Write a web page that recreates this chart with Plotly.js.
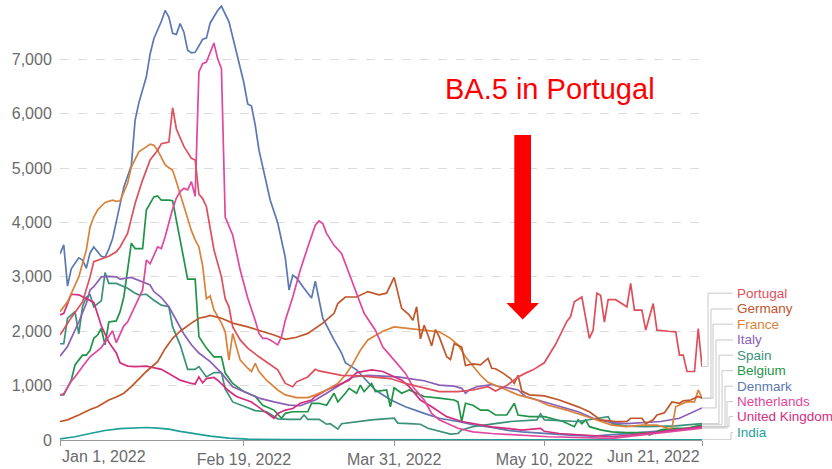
<!DOCTYPE html>
<html><head><meta charset="utf-8">
<script src="https://cdn.plot.ly/plotly-3.0.1.min.js"></script>
<style>html,body{margin:0;padding:0;background:#fff}</style>
</head><body><div id="chart" style="width:832px;height:469px"></div>
<script>
// ---- data (day offset from 2022-01-01, value) ----
const startDate = '2022-01-01';
const endDate = '2022-06-21';
const xTickDates = ['2022-01-01','2022-02-19','2022-03-31','2022-05-10','2022-06-21'];
const xTickLabels = ['Jan 1, 2022','Feb 19, 2022','Mar 31, 2022','May 10, 2022','Jun 21, 2022'];
const yTickVals = [0,1000,2000,3000,4000,5000,6000,7000];

const countries = ['Portugal','Germany','France','Italy','Spain','Belgium','Denmark','Netherlands','United Kingdom','India'];
const colors = ['#de4f5c','#c0562a','#d9823a','#8a5fb5','#3b9179','#1f9447','#5b78b0','#e0479e','#d42e7e','#1f9f98'];
const labelVals = [2700,2410,2130,1840,1560,1275,990,705,430,135];

const prtDays = [0,3,6,8,9,11,13,15,16,18,20,22,24,26,27,29,30,31,32,33,35,36,37,38,39,40,41,43,44,45,46,48,50,53,55,58,60,62,63,66,68,69,72,75,80,85,88,92,97,101,106,110,114,116,119,122,124,126,129,132,135,136,137,139,141,142,143,144,145,146,148,151,152,153,155,156,158,159,162,164,165,166,167,169,170,171];
const prtVals = [1930,2250,2540,3000,3280,3330,3380,3460,3550,3800,4350,4780,5150,5330,5450,5480,6110,5720,5560,5400,5180,5150,4520,4440,4290,3900,3500,3000,2600,2450,2080,1840,1690,1530,1440,1290,1040,980,1070,1160,1300,1270,1230,1190,1180,1150,1130,1040,950,890,890,920,980,900,1000,1160,1230,1290,1420,1760,2180,2270,2540,2630,1870,2020,2700,2660,2170,2580,2580,2450,2880,2390,2390,2020,2510,2020,2000,1990,1560,1560,1260,1260,2050,1350];

const deuDays = [0,2,5,8,10,13,15,17,19,21,23,26,28,30,32,35,37,39,40,43,46,50,53,57,60,63,66,70,73,74,76,79,82,85,87,89,91,93,94,95,96,97,98,99,100,101,103,104,105,107,108,110,112,114,115,116,118,120,121,122,123,125,129,133,138,141,144,148,151,152,155,156,158,159,161,163,165,166,168,170,171];
const deuVals = [340,370,460,560,610,735,790,860,980,1130,1260,1440,1680,1870,2000,2150,2240,2270,2290,2240,2150,2080,2020,1930,1850,1890,1960,2150,2330,2510,2630,2630,2730,2670,2700,2990,2420,2300,2200,2450,1860,2110,1930,1730,2030,1900,1530,1480,1770,1710,1370,1400,1380,1500,1320,1310,1230,1130,1040,1190,900,830,810,735,610,520,370,340,340,400,400,300,370,460,500,700,675,720,735,800,770];

const fraDays = [0,2,5,7,8,9,10,12,14,15,16,17,18,19,21,23,24,25,26,28,30,31,33,35,36,37,38,39,40,41,43,44,45,46,47,48,50,51,52,53,55,58,60,63,66,68,71,74,76,78,80,82,84,86,89,93,97,101,104,106,108,110,112,114,117,120,122,127,130,135,139,143,147,151,155,159,162,163,164,166,167,169,170,171];
const fraVals = [2360,2540,3000,3490,3920,4100,4230,4370,4410,4390,4400,4550,4720,5020,5300,5390,5440,5420,5330,5060,4960,4750,4320,3850,3680,3550,3200,2600,2650,2390,2150,1990,1470,1960,1710,1470,1320,1260,1410,1260,1100,920,830,780,780,830,920,1040,1190,1400,1650,1840,1920,2000,2080,2050,2020,1990,1870,1750,1530,1350,1190,1060,980,890,830,735,640,550,460,370,275,245,275,275,215,220,610,675,700,700,920,770];

const itaDays = [0,2,5,7,8,9,11,13,15,16,19,22,24,25,27,29,31,33,35,37,40,43,46,50,53,57,61,64,68,71,75,78,82,86,90,93,97,101,105,107,108,109,111,115,117,120,122,124,129,133,138,142,147,151,155,160,165,169,171];
const itaVals = [1540,1720,2170,2510,2760,2820,3000,3010,3000,2960,2990,2910,2850,2730,2620,2450,2200,1950,1750,1600,1440,1230,980,860,770,700,640,630,735,860,1040,1160,1190,1170,1160,1130,1090,1010,990,950,860,920,980,1020,980,950,920,800,700,625,520,400,320,300,320,340,400,520,590];

const espDays = [0,1,2,3,4,5,6,7,8,9,11,12,13,15,18,20,21,23,25,27,29,30,32,34,36,37,39,41,43,44,46,49,52,55,58,61,64,65,66,69,71,72,74,75,78,83,89,90,93,96,98,104,106,107,110,114,116,120,127,128,129,138,146,147,151,156,164,171];
const espVals = [1770,1770,2240,2300,2360,1950,2450,2630,2670,2450,2560,3080,2880,2880,2790,2700,2670,2680,2570,2480,2450,2080,1750,1300,1300,1350,1160,1240,1240,940,700,620,540,520,390,380,380,460,380,380,290,300,200,300,330,370,400,310,300,290,215,110,120,185,245,280,300,340,370,480,370,340,430,300,255,245,260,300];

const belDays = [0,1,3,4,6,7,8,9,10,11,12,13,15,16,17,19,20,22,23,25,26,27,29,30,31,32,33,34,36,37,39,41,43,44,46,49,52,54,57,59,60,62,66,67,69,71,73,74,76,77,79,80,81,83,84,87,88,89,91,93,95,97,101,105,106,107,108,110,112,114,116,119,121,122,125,129,134,137,138,139,140,141,144,147,151,156,157,160,163,167,169,171];
const belVals = [830,830,1100,1380,1560,1560,1650,1870,1930,2050,1750,2170,2190,2360,2630,3620,3520,3520,4230,4470,4490,4410,4410,4400,4040,3680,3370,2960,2960,1900,1690,1530,1530,1230,1040,890,800,640,550,400,490,520,520,675,675,640,860,700,860,950,860,1010,890,1040,890,920,610,960,860,920,860,800,770,735,700,340,675,640,550,550,460,460,675,460,430,430,340,245,370,300,370,245,185,150,135,135,90,185,215,215,245,280];

const dnkDays = [0,1,2,3,5,6,7,8,9,11,12,13,14,15,16,17,19,20,21,23,24,25,27,28,29,30,31,32,33,34,35,36,38,39,40,42,43,45,47,49,50,51,52,53,56,58,60,61,62,63,65,67,68,69,70,73,75,76,79,81,84,88,92,97,101,106,110,115,119,123,129,136,142,150,157,165,171];
const dnkVals = [3420,3590,2830,3150,3350,3310,3160,3440,3550,3380,3360,3510,3700,4000,4330,4650,5050,5880,6200,6680,7100,7380,7700,7900,7780,7480,7460,7660,7500,7170,7120,7130,7370,7390,7670,7900,7980,7690,7130,6560,6180,6140,5790,5330,4410,3990,3360,2760,3030,2980,2790,2610,2920,2570,2240,1840,1600,1420,1290,1140,920,740,610,490,400,340,280,230,180,150,120,90,70,110,150,200,240];

const nldDays = [0,1,3,4,6,8,11,14,15,17,18,20,22,23,24,26,27,28,30,31,32,33,34,35,36,37,38,39,41,42,43,44,46,48,50,52,53,54,55,56,58,59,60,62,64,66,68,69,70,71,73,75,77,79,81,84,86,89,92,94,97,99,101,106,110,115,123,130,147,160,171];
const nldVals = [830,850,1080,1160,1350,1530,1700,2010,1790,2100,2170,2450,2760,3310,3240,3550,3520,3740,4250,4450,4570,4630,4600,4750,4480,6770,6920,6950,7300,7010,6830,4100,3770,3125,2610,2200,1960,1870,1870,1840,1750,1900,2200,2630,3125,3550,3950,4030,3980,3800,3580,3430,3060,2700,2330,2020,1710,1470,1230,980,735,490,370,215,150,120,90,60,30,130,220];

const gbrDays = [0,1,3,5,7,9,11,13,15,16,18,20,23,27,30,32,35,36,37,38,39,41,42,45,47,51,54,56,57,58,60,62,64,67,68,71,75,77,79,83,86,91,93,96,99,103,107,110,115,119,123,128,129,133,147,160,171];
const gbrVals = [2300,2330,2680,2670,2600,2530,2100,1800,1600,1420,1360,1350,1360,1300,1180,1100,1040,1030,1160,1050,1130,1150,1100,900,800,700,550,460,400,490,550,580,675,735,800,920,1040,1100,1240,1290,1260,1100,980,735,610,430,340,300,240,215,180,215,160,120,60,150,245];

const indDays = [0,4,8,12,16,20,23,26,29,32,36,40,45,50,60,80,120,150,171];
const indVals = [20,60,120,175,210,225,230,220,200,160,110,70,35,15,6,3,2,3,5];

const seriesDays = [prtDays,deuDays,fraDays,itaDays,espDays,belDays,dnkDays,nldDays,gbrDays,indDays];
const seriesVals = [prtVals,deuVals,fraVals,itaVals,espVals,belVals,dnkVals,nldVals,gbrVals,indVals];

const annotationText = 'BA.5 in Portugal';

// ---- build ----
function dayToDate(d){ return new Date(Date.UTC(2022,0,1) + d*86400000).toISOString().slice(0,10); }

const W = 832, H = 469;
const M = {l:60, r:130, t:5, b:29};
const PW = W - M.l - M.r, PH = H - M.t - M.b;
const px = x => (x - M.l) / PW;          // pixel -> paper x
const py = y => (H - M.b - y) / PH;      // pixel -> paper y
const FONT = '"Liberation Sans", Arial, sans-serif';

const drawOrder = [9,6,5,4,3,8,2,1,7,0];
const traces = drawOrder.map(i => ({
  type:'scatter', mode:'lines', name: countries[i],
  x: seriesDays[i].map(dayToDate), y: seriesVals[i],
  line:{color: colors[i], width:1.7},
  hoverinfo:'skip', showlegend:false
}));

const shapes = [];
const annotations = [];
// connector lines + labels
const connX = [708,711,713,716,719,722,725,727,729,731];
countries.forEach((c,i) => {
  const endV = seriesVals[i][seriesVals[i].length-1];
  const xe = px(702), xc = px(connX[i]), xl = px(733);
  shapes.push({type:'path', xref:'paper', yref:'y',
    path:`M ${xe},${endV} L ${xc},${endV} L ${xc},${labelVals[i]} L ${xl},${labelVals[i]}`,
    line:{color:'#c8c8c8', width:1}});
  annotations.push({xref:'paper', yref:'y', x:px(735), y:labelVals[i], xanchor:'left', yanchor:'middle',
    text:c, showarrow:false, font:{family:FONT, size:13.5, color:colors[i]}});
});
// first / last x labels aligned inward
annotations.push({xref:'x', yref:'paper', x:xTickDates[0], y:py(456), xanchor:'left', yanchor:'middle',
  text:xTickLabels[0], showarrow:false, font:{family:FONT, size:16, color:'#6b6b6b'}});
annotations.push({xref:'x', yref:'paper', x:xTickDates[4], y:py(456), xanchor:'right', yanchor:'middle',
  text:xTickLabels[4], showarrow:false, font:{family:FONT, size:16, color:'#6b6b6b'}});
// BA.5 text
annotations.push({xref:'paper', yref:'paper', x:px(550), y:py(89), xanchor:'center', yanchor:'middle',
  text:annotationText, showarrow:false, font:{family:FONT, size:29, color:'#ff0000'}});
// arrow
const ap = [[514.3,135],[531,135],[531,303],[539,303],[522.7,319.5],[506.5,303],[514.3,303]];
shapes.push({type:'path', xref:'paper', yref:'paper', layer:'above',
  path: 'M ' + ap.map(p => px(p[0]) + ',' + py(p[1])).join(' L ') + ' Z',
  fillcolor:'#ff0000', line:{width:0}});

const layout = {
  width:W, height:H, margin:M,
  paper_bgcolor:'#fff', plot_bgcolor:'#fff',
  font:{family:FONT, color:'#6b6b6b'},
  xaxis:{type:'date', range:[startDate, endDate], tickvals:xTickDates,
    ticktext:['', xTickLabels[1], xTickLabels[2], xTickLabels[3], ''],
    ticks:'outside', ticklen:5, tickcolor:'#999', showline:true, linecolor:'#999', linewidth:1,
    showgrid:false, zeroline:false, tickfont:{size:16, color:'#6b6b6b'}, fixedrange:true},
  yaxis:{range:[0,8000], tickvals:yTickVals, tickformat:',', ticks:'outside', ticklen:4,
    tickcolor:'rgba(0,0,0,0)', showline:false,
    zeroline:false, showgrid:true, gridcolor:'#dcdcdc', griddash:'dash', gridwidth:1,
    tickfont:{size:16, color:'#6b6b6b'}, fixedrange:true},
  shapes, annotations, showlegend:false
};
Plotly.newPlot('chart', traces, layout, {displayModeBar:false, staticPlot:true});
</script></body></html>
